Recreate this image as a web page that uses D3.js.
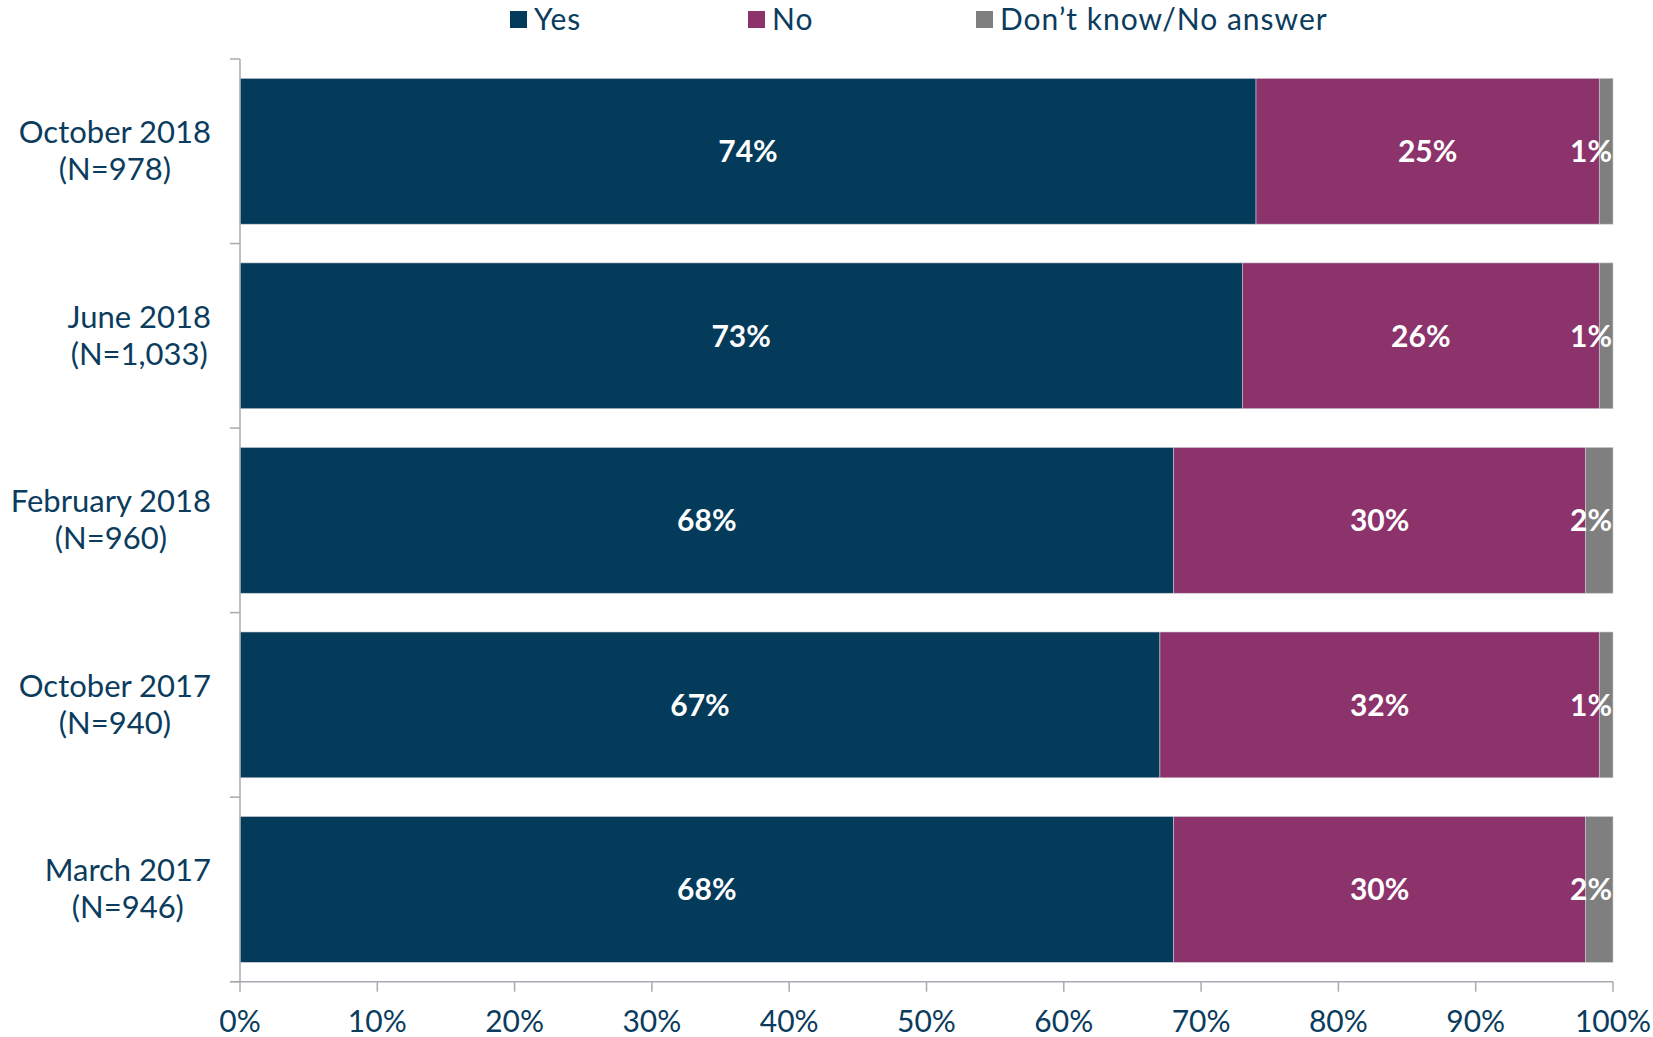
<!DOCTYPE html>
<html><head><meta charset="utf-8">
<script src="https://cdn.jsdelivr.net/npm/d3@7"></script>
<style>
html,body{margin:0;padding:0;background:#fff;}
svg{display:block;font-family:Lato, "Open Sans", sans-serif;}
</style></head>
<body>
<svg id="chart" width="1653" height="1037"></svg>
<script>
const categoryLines = [
  ["October 2018", "(N=978)"],
  ["June 2018", "(N=1,033)"],
  ["February 2018", "(N=960)"],
  ["October 2017", "(N=940)"],
  ["March 2017", "(N=946)"]
];
const categories = categoryLines.map(d => d.join(" "));
const yesValues = [74, 73, 68, 67, 68];
const noValues = [25, 26, 30, 32, 30];
const dkValues = [1, 1, 2, 1, 2];
const seriesNames = ["Yes", "No", "Don\u2019t know/No answer"];
const xTicks = [0,10,20,30,40,50,60,70,80,90,100];

(function(){
const colors = ["#043a5a", "#8c336c", "#7f7f7f"];
const textColor = "#0b3c5d";
const axisColor = "#a7abb1";

const svg = d3.select("#chart");
const pLeft = 240, pRight = 1613, pTop = 59, pBottom = 981.7;

const x = d3.scaleLinear().domain([0, 100]).range([pLeft, pRight]);
const y = d3.scaleBand().domain(categories).range([pTop, pBottom]).paddingInner(0.21).paddingOuter(0.105);

const rows = categories.map((c, i) => ({cat: c, vals: [yesValues[i], noValues[i], dkValues[i]]}));

// bars
rows.forEach(r => {
  let acc = 0;
  const g = svg.append("g");
  r.vals.forEach((v, k) => {
    g.append("rect")
      .attr("x", x(acc)).attr("y", y(r.cat))
      .attr("width", x(acc + v) - x(acc)).attr("height", y.bandwidth())
      .attr("fill", colors[k])
      .attr("stroke", "#c8ccd2").attr("stroke-width", 0.6);
    acc += v;
  });
});

// value labels
rows.forEach(r => {
  let acc = 0;
  r.vals.forEach(v => {
    const cx = (x(acc) + x(acc + v)) / 2;
    const t = svg.append("text")
      .attr("y", y(r.cat) + y.bandwidth() / 2)
      .attr("dy", "0.36em")
      .attr("fill", "#fff")
      .attr("font-weight", "bold")
      .attr("font-size", 30)
      .attr("text-anchor", "middle")
      .text(v + "%");
    const w = t.node().getComputedTextLength();
    t.attr("x", Math.min(cx, pRight - 1 - w / 2));
    acc += v;
  });
});

// y axis
const yAxisG = svg.append("g");
yAxisG.append("line").attr("x1", pLeft).attr("x2", pLeft).attr("y1", pTop).attr("y2", pBottom)
  .attr("stroke", axisColor).attr("stroke-width", 1.5);
const boundaries = categories.map(c => y(c) - y.step() * y.paddingInner() / 2);
boundaries[0] = pTop;
boundaries.push(pBottom);
boundaries.forEach(b => {
  yAxisG.append("line").attr("x1", pLeft - 10).attr("x2", pLeft).attr("y1", b).attr("y2", b)
    .attr("stroke", axisColor).attr("stroke-width", 1.5);
});

// category labels: lines centred on each other, block right-aligned
const labelRight = 211;
rows.forEach((r, i) => {
  const cy = y(r.cat) + y.bandwidth() / 2;
  const t = svg.append("text")
    .attr("text-anchor", "middle")
    .attr("fill", textColor).attr("font-size", 31);
  const spans = categoryLines[i].map((line, j) =>
    t.append("tspan").attr("y", cy - 8 + j * 37).text(line));
  const maxW = d3.max(spans, s => s.node().getComputedTextLength());
  const cxl = labelRight - maxW / 2;
  spans.forEach(s => s.attr("x", cxl));
});

// x axis
const xAxisG = svg.append("g");
xAxisG.append("line").attr("x1", pLeft - 10).attr("x2", pRight).attr("y1", pBottom).attr("y2", pBottom)
  .attr("stroke", axisColor).attr("stroke-width", 1.5);
xTicks.forEach(v => {
  xAxisG.append("line").attr("x1", x(v)).attr("x2", x(v)).attr("y1", pBottom).attr("y2", pBottom + 10)
    .attr("stroke", axisColor).attr("stroke-width", 1.5);
  xAxisG.append("text").attr("x", x(v)).attr("y", 1032)
    .attr("text-anchor", "middle").attr("fill", textColor).attr("font-size", 30)
    .text(v + "%");
});

// legend
const legendX = [510, 748, 976];
seriesNames.forEach((n, k) => {
  svg.append("rect").attr("x", legendX[k]).attr("y", 11).attr("width", 17).attr("height", 17)
    .attr("fill", colors[k]);
  svg.append("text").attr("x", legendX[k] + 24).attr("y", 30)
    .attr("fill", textColor).attr("font-size", 30).attr("letter-spacing", 1)
    .text(n);
});
})();
</script>
</body></html>
